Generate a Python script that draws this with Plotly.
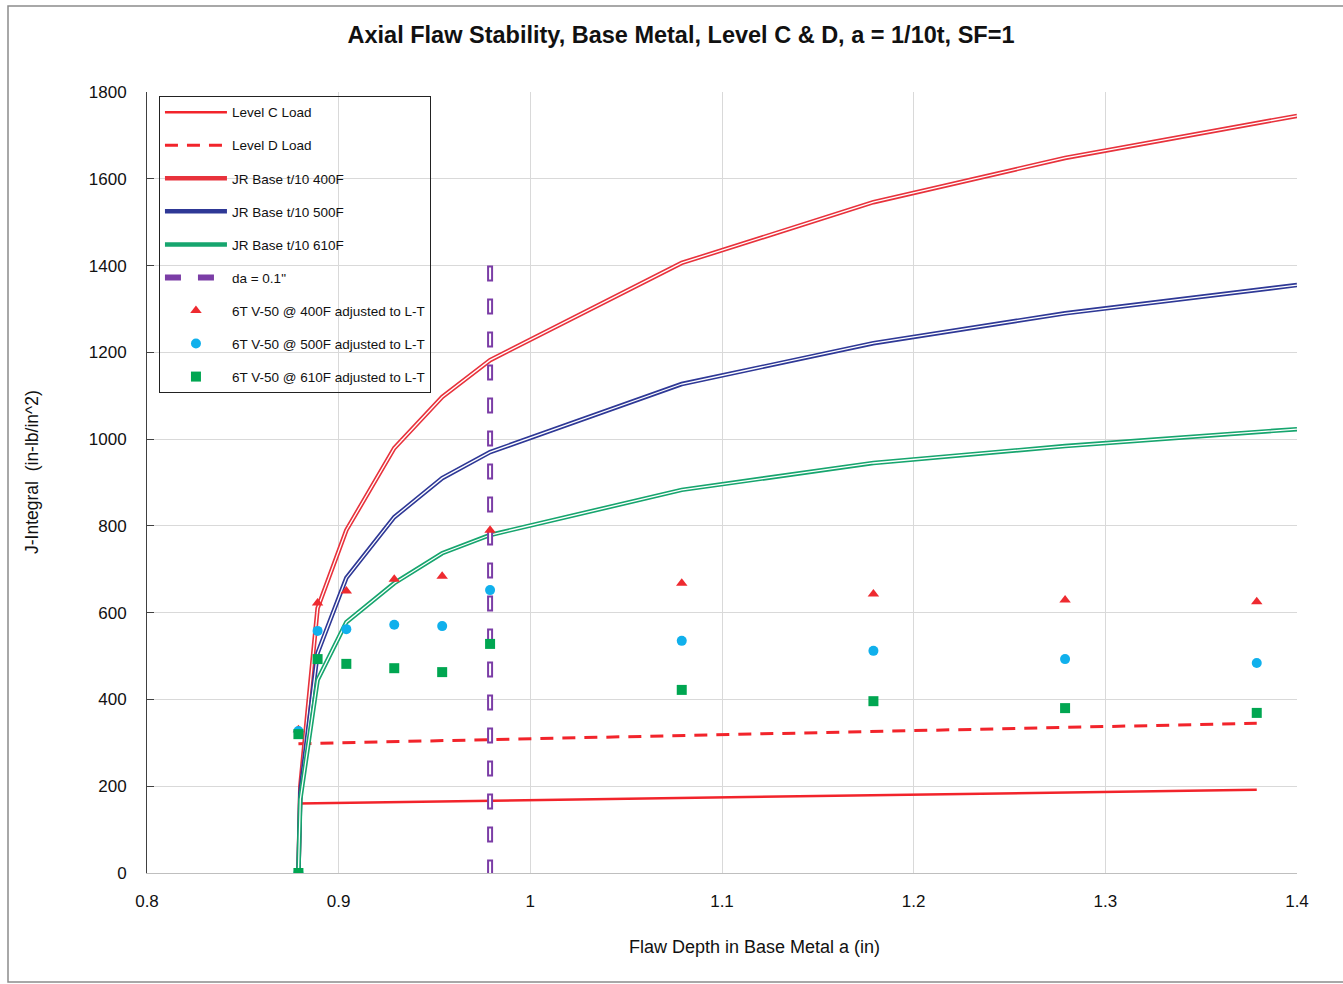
import plotly.graph_objects as go

# Flaw depth (in) at each crack extension step used for the CVN-based test points
a_test = [0.879, 0.879, 0.889, 0.904, 0.929, 0.954, 0.979, 1.079, 1.179, 1.279, 1.379]
j_v50_400 = [0, 330, 622, 650, 677, 684, 790, 668, 643, 629, 625]
j_v50_500 = [0, 327, 558, 562, 572, 569, 652, 535, 512, 493, 484]
j_v50_610 = [0, 320, 493, 482, 472, 463, 528, 422, 396, 380, 369]

# J-R resistance curves for base metal, t/10 flaw
a_jr = [0.879, 0.880, 0.889, 0.904, 0.929, 0.954, 0.979, 1.079, 1.179, 1.279, 1.4]
jr_400 = [0, 200, 610, 790, 979, 1097, 1182, 1406, 1546, 1648, 1745]
jr_500 = [0, 185, 507, 680, 820, 910, 970, 1127, 1221, 1290, 1355]
jr_610 = [0, 170, 445, 578, 668, 737, 779, 883, 945, 984, 1023]

# Applied J for service levels C and D
a_load = [0.879, 1.379]
j_level_c = [160, 192]
j_level_d = [298, 345]

# Crack extension limit da = 0.1" (drawn top-down)
a_da = [0.979, 0.979]
j_da = [1400, 0]

x_ticks = [0.8, 0.9, 1.0, 1.1, 1.2, 1.3, 1.4]
x_tick_text = ["0.8", "0.9", "1", "1.1", "1.2", "1.3", "1.4"]

NARROW = "Liberation Sans Narrow, Arial Narrow, Liberation Sans, Arial, sans-serif"
ARIAL = "Liberation Sans, Arial, sans-serif"

fig = go.Figure()

fig.add_trace(go.Scatter(
    x=a_load, y=j_level_c, mode="lines", name="Level C Load",
    line=dict(color="#F2242B", width=2.5), legendgroup="c", legendrank=1))
fig.add_trace(go.Scatter(
    x=a_load, y=j_level_d, mode="lines", name="Level D Load",
    line=dict(color="#F2242B", width=3, dash="13px,9px"), legendgroup="d", legendrank=2))

jr_sets = [
    ("JR Base t/10 400F", jr_400, "#E8323C", "jr4", 3),
    ("JR Base t/10 500F", jr_500, "#2E3896", "jr5", 4),
    ("JR Base t/10 610F", jr_610, "#16A56E", "jr6", 5),
]
for name, vals, col, grp, rank in jr_sets:
    fig.add_trace(go.Scatter(
        x=a_jr, y=vals, mode="lines", name=name,
        line=dict(color=col, width=4.5), legendgroup=grp, legendrank=rank))
    fig.add_trace(go.Scatter(
        x=a_jr, y=vals, mode="lines", showlegend=False, hoverinfo="skip",
        line=dict(color="white", width=1.3), legendgroup=grp))

# da marker line: purple capsules with a hollow white core
fig.add_trace(go.Scatter(
    x=a_da, y=j_da, mode="lines", name="da = 0.1\"",
    line=dict(color="#7B3DA6", width=6, dash="16px,17px"), legendgroup="da", legendrank=6))
fig.add_trace(go.Scatter(
    x=a_da, y=j_da, mode="lines", showlegend=False, hoverinfo="skip",
    line=dict(color="white", width=2, dash="0px,2px,12px,19px"), legendgroup="da"))

fig.add_trace(go.Scatter(
    x=a_test, y=j_v50_400, mode="markers", name="6T V-50 @ 400F adjusted to L-T",
    marker=dict(symbol="triangle-up", size=10, color="#EE2A30"), legendgroup="m4", legendrank=7))
fig.add_trace(go.Scatter(
    x=a_test, y=j_v50_500, mode="markers", name="6T V-50 @ 500F adjusted to L-T",
    marker=dict(symbol="circle", size=10, color="#10B0EC"), legendgroup="m5", legendrank=8))
fig.add_trace(go.Scatter(
    x=a_test, y=j_v50_610, mode="markers", name="6T V-50 @ 610F adjusted to L-T",
    marker=dict(symbol="square", size=10, color="#00A651"), legendgroup="m6", legendrank=9))

fig.update_layout(
    width=1343, height=984,
    margin=dict(l=147, r=46, t=92, b=111),
    paper_bgcolor="white", plot_bgcolor="white",
    title=dict(
        text="<b>Axial Flaw Stability, Base Metal, Level C & D, a = 1/10t, SF=1</b>",
        x=681 / 1343, xanchor="center", xref="container",
        y=1 - 35 / 984, yanchor="middle", yref="container",
        font=dict(family=ARIAL, size=23.5, color="#111111")),
    font=dict(family=ARIAL, color="#111111"),
    showlegend=True,
    legend=dict(
        x=0.0104, y=0.995, xanchor="left", yanchor="top",
        bgcolor="rgba(255,255,255,0)", bordercolor="#222222", borderwidth=1,
        font=dict(family=NARROW, size=13.5, color="#111111"),
        tracegroupgap=12.5, itemwidth=62, traceorder="grouped"),
    xaxis=dict(
        range=[0.8, 1.4], tickvals=x_ticks, ticktext=x_tick_text,
        showgrid=True, gridcolor="#d9d9d9", gridwidth=1,
        showline=True, linecolor="#bfbfbf", linewidth=1,
        ticks="", zeroline=False, ticklabelstandoff=13,
        tickfont=dict(family=ARIAL, size=17, color="#111111")),
    yaxis=dict(
        range=[0, 1800], dtick=200, tick0=0,
        showgrid=True, gridcolor="#d9d9d9", gridwidth=1,
        showline=True, linecolor="#404040", linewidth=1,
        ticks="inside", ticklen=7, tickcolor="#404040",
        zeroline=False, ticklabelstandoff=16,
        tickfont=dict(family=ARIAL, size=17, color="#111111")),
    annotations=[
        dict(text="Flaw Depth in Base Metal a (in)", xref="paper", yref="paper",
             x=(754 - 147) / 1150, y=(873 - 947) / 781, xanchor="center", yanchor="middle",
             showarrow=False, font=dict(family=NARROW, size=18, color="#111111")),
        dict(text="J-Integral  (in-lb/in^2)", xref="paper", yref="paper",
             x=(32 - 147) / 1150, y=(873 - 472) / 781, xanchor="center", yanchor="middle",
             textangle=-90, showarrow=False,
             font=dict(family=NARROW, size=17.5, color="#111111")),
    ],
    shapes=[
        dict(type="rect", xref="paper", yref="paper",
             x0=(8 - 147) / 1150, x1=(1350 - 147) / 1150,
             y0=(873 - 982) / 781, y1=(873 - 6) / 781,
             line=dict(color="#8c8c8c", width=1.5), fillcolor="rgba(0,0,0,0)", layer="below"),
    ],
)

fig.write_html("out.html")
